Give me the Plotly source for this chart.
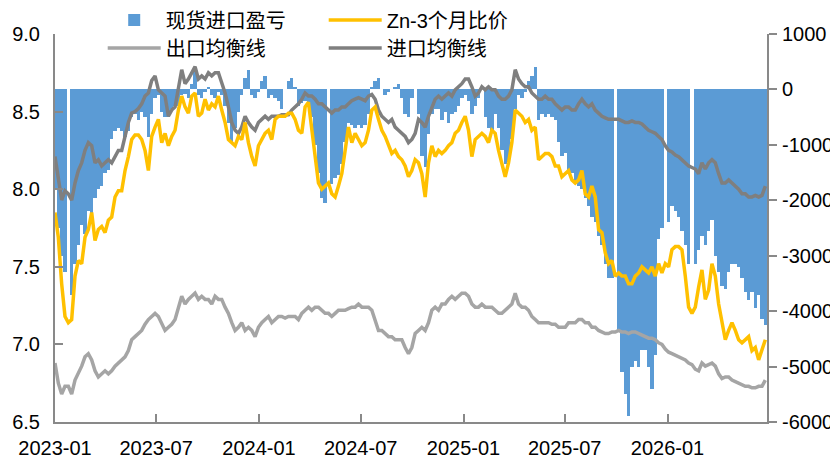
import pandas as pd
import plotly.graph_objects as go

# ---- data (~6-day sampling) ----
ZN_RATIO = [
    7.85, 7.69, 7.39, 7.18, 7.14, 7.16, 7.44, 7.54, 7.52, 7.69, 7.74, 7.85, 7.67, 7.74, 7.76, 7.72, 7.80, 7.82, 7.95, 7.99,
    7.99, 8.12, 8.21, 8.32, 8.35, 8.35, 8.32, 8.25, 8.12, 8.34, 8.40, 8.45, 8.30, 8.36, 8.28, 8.34, 8.38,
    8.51, 8.60, 8.53, 8.49, 8.60, 8.62, 8.47, 8.49, 8.58, 8.51, 8.55, 8.53, 8.60, 8.51, 8.43, 8.32, 8.30, 8.28, 8.34, 8.32,
    8.43, 8.30, 8.21, 8.15, 8.28, 8.32, 8.36, 8.38, 8.32, 8.45, 8.47, 8.47, 8.47, 8.49, 8.49, 8.45,
    8.38, 8.36, 8.53, 8.56, 8.38, 8.21, 8.04, 8.00, 8.02, 8.04, 7.97, 7.95, 8.02, 8.10, 8.25, 8.40, 8.30, 8.36, 8.32, 8.28,
    8.30, 8.38, 8.51, 8.53, 8.45, 8.38, 8.34, 8.28, 8.23, 8.25, 8.21, 8.19, 8.15, 8.08, 8.12, 8.19,
    8.17, 8.10, 7.95, 8.17, 8.28, 8.21, 8.25, 8.23, 8.25, 8.28, 8.30, 8.36, 8.38, 8.43, 8.47, 8.38, 8.21, 8.32, 8.34, 8.36,
    8.34, 8.30, 8.38, 8.36, 8.25, 8.17, 8.08, 8.17, 8.30, 8.51, 8.49, 8.47, 8.43, 8.45, 8.38, 8.40,
    8.19, 8.21, 8.23, 8.23, 8.21, 8.15, 8.15, 8.08, 8.10, 8.12, 8.06, 8.04, 8.06, 8.12, 7.97, 7.95, 8.02, 7.95, 7.74, 7.72,
    7.59, 7.52, 7.54, 7.44, 7.46, 7.44, 7.44, 7.39, 7.39, 7.44, 7.46, 7.50, 7.48, 7.46, 7.50, 7.44,
    7.52, 7.46, 7.52, 7.50, 7.61, 7.63, 7.63, 7.61, 7.44, 7.24, 7.20, 7.24, 7.37, 7.48, 7.29, 7.35, 7.52, 7.44, 7.26, 7.14,
    7.03, 7.09, 7.14, 7.09, 7.03, 7.01, 7.03, 7.05, 6.96, 6.98, 6.90, 6.96, 7.03,
]

IMPORT_BAL = [
    8.21, 8.06, 7.93, 7.99, 7.97, 7.93, 8.04, 8.12, 8.17, 8.25, 8.30, 8.28, 8.17, 8.19, 8.15, 8.17, 8.19, 8.17, 8.21, 8.25,
    8.25, 8.34, 8.43, 8.49, 8.50, 8.52, 8.55, 8.60, 8.62, 8.70, 8.73, 8.64, 8.62, 8.60, 8.47, 8.51, 8.53,
    8.64, 8.77, 8.68, 8.71, 8.75, 8.79, 8.71, 8.73, 8.71, 8.75, 8.73, 8.75, 8.75, 8.68, 8.62, 8.53, 8.43, 8.38, 8.36, 8.40,
    8.47, 8.43, 8.40, 8.38, 8.43, 8.45, 8.47, 8.45, 8.47, 8.47, 8.47, 8.48, 8.48, 8.48, 8.51, 8.53,
    8.55, 8.58, 8.62, 8.60, 8.60, 8.58, 8.55, 8.55, 8.53, 8.51, 8.49, 8.51, 8.51, 8.53, 8.53, 8.55, 8.57, 8.58, 8.59, 8.58,
    8.57, 8.60, 8.61, 8.58, 8.51, 8.47, 8.45, 8.43, 8.45, 8.40, 8.38, 8.36, 8.34, 8.30, 8.32, 8.36,
    8.45, 8.43, 8.40, 8.47, 8.53, 8.58, 8.60, 8.58, 8.60, 8.62, 8.60, 8.64, 8.66, 8.68, 8.71, 8.71, 8.66, 8.60, 8.62, 8.66,
    8.64, 8.66, 8.64, 8.64, 8.60, 8.58, 8.58, 8.60, 8.64, 8.77, 8.71, 8.68, 8.66, 8.66, 8.62, 8.60,
    8.58, 8.58, 8.60, 8.58, 8.58, 8.55, 8.53, 8.51, 8.53, 8.53, 8.51, 8.51, 8.55, 8.58, 8.55, 8.53, 8.55, 8.51, 8.49, 8.47,
    8.46, 8.45, 8.45, 8.45, 8.45, 8.44, 8.43, 8.43, 8.44, 8.43, 8.43, 8.42, 8.40, 8.38, 8.37, 8.36,
    8.34, 8.32, 8.28, 8.25, 8.24, 8.22, 8.21, 8.19, 8.17, 8.15, 8.14, 8.13, 8.10, 8.17, 8.13, 8.17, 8.19, 8.17, 8.10, 8.04,
    8.04, 8.06, 8.04, 8.02, 8.00, 7.97, 7.97, 7.95, 7.95, 7.96, 7.95, 7.96, 8.02,
]

EXPORT_BAL = [
    6.88, 6.75, 6.68, 6.73, 6.73, 6.68, 6.77, 6.81, 6.86, 6.92, 6.94, 6.90, 6.83, 6.79, 6.81, 6.83, 6.81, 6.83, 6.86, 6.88,
    6.90, 6.92, 6.96, 7.03, 7.05, 7.07, 7.09, 7.13, 7.16, 7.18, 7.20, 7.18, 7.13, 7.09, 7.11, 7.13, 7.16,
    7.24, 7.31, 7.26, 7.29, 7.31, 7.33, 7.29, 7.31, 7.29, 7.29, 7.26, 7.31, 7.29, 7.29, 7.24, 7.20, 7.14, 7.09, 7.11, 7.14,
    7.09, 7.11, 7.09, 7.05, 7.11, 7.14, 7.16, 7.18, 7.14, 7.16, 7.18, 7.18, 7.17, 7.18, 7.18, 7.18,
    7.16, 7.20, 7.22, 7.24, 7.22, 7.24, 7.24, 7.22, 7.20, 7.20, 7.18, 7.20, 7.22, 7.22, 7.22, 7.23, 7.24, 7.24, 7.26, 7.24,
    7.24, 7.24, 7.22, 7.16, 7.09, 7.09, 7.07, 7.05, 7.05, 7.03, 7.03, 7.03, 6.98, 6.94, 6.98, 7.07,
    7.09, 7.11, 7.09, 7.14, 7.22, 7.24, 7.22, 7.26, 7.26, 7.29, 7.31, 7.29, 7.31, 7.33, 7.33, 7.31, 7.26, 7.24, 7.24, 7.26,
    7.24, 7.24, 7.24, 7.22, 7.20, 7.20, 7.22, 7.24, 7.26, 7.33, 7.26, 7.24, 7.24, 7.22, 7.18, 7.16,
    7.14, 7.14, 7.14, 7.14, 7.13, 7.13, 7.11, 7.11, 7.11, 7.14, 7.14, 7.14, 7.16, 7.16, 7.14, 7.14, 7.11, 7.11, 7.09, 7.08,
    7.07, 7.07, 7.08, 7.08, 7.09, 7.08, 7.08, 7.07, 7.08, 7.08, 7.07, 7.06, 7.05, 7.04, 7.04, 7.03,
    7.01, 7.00, 6.97, 6.95, 6.94, 6.93, 6.92, 6.91, 6.90, 6.88, 6.87, 6.84, 6.83, 6.88, 6.86, 6.87, 6.88, 6.86, 6.81, 6.78,
    6.79, 6.79, 6.77, 6.76, 6.75, 6.74, 6.73, 6.73, 6.72, 6.72, 6.73, 6.73, 6.77,
]

# None = no quote (holiday)
IMPORT_PL = [
    -1800, -2500, -3000, -3300, None, -3700, -3150, -2800, -2450, -2600, -2200, -2300, -1950, -1800, -1750, -1500, -1450,
    -900, -750, -700, -750, -850, -750, -500, -450, -550, -400, -500, -850, -450, -150, -100, -400, -500, -500, -350, -300,
    -300, -100, -80, -150, 100, 400, -100, -150, -50, 50, -100, -150, -50, -100, -300, -600, -950, -700, -400, -100,
    200, 350, -100, -150, -50, 150, 250, -150, -100, -150, -200, -350, None, 150, 200, 50,
    -300, -250, -200, -300, -500, -1000, -1500, -1950, -2050, None, -1700, -1600, -1550, -1350, -950, -600, -650, -700,
    -650, -700, -650, -450, 50, 150, 200, 0, -100, -50, 0, 50, 100, -150, -450, -500, -150, None,
    -450, -1200, -1400, -800, -450, -350, -350, -550, -400, -600, -450, -400, -300, -150, -100, -200, -450, -300, -150,
    None, -500, -700, -750, -450, -700, -1100, -1350, -1300, -900, -350, -100, -150, -50, 150, 250, 400,
    -550, -450, -500, -450, -500, -550, -950, -1200, -1150, -1450, -1500, -1650, -1750, -1800, -1950, -2100, -2300,
    -2400, -2650, -2800, -3150, -3400, -3400, None, -4350, -5100, -5500, -5900, -5000, -4900, -5000, -4700, -4700,
    -5000, -5400, -4800,
    -2700, -2500, None, -2400, -2100, -2200, -2300, -2550, -2800, -3150, None, -3150, -2900, -2650, -2800, -2550, -2350,
    -3000, -3300, -3550, -3600, -3300, -3150, -3150, -3200, -3400, -3650, -3800, -3650, -3950, -3700, -4150, -4250,
]

assert len(ZN_RATIO) == len(IMPORT_BAL) == len(EXPORT_BAL) == len(IMPORT_PL), (
    len(ZN_RATIO), len(IMPORT_BAL), len(EXPORT_BAL), len(IMPORT_PL))

DATES = pd.date_range("2023-01-01", "2026-06-25", periods=len(ZN_RATIO))

RIGHT_TICKS = [-6000, -5000, -4000, -3000, -2000, -1000, 0, 1000]
RIGHT_TEXT = [str(v) for v in RIGHT_TICKS]

AXIS_GRAY = "#898989"
FONT = "Liberation Sans, Arial, Noto Sans CJK SC, sans-serif"

fig = go.Figure()
fig.add_trace(go.Bar(x=DATES, y=IMPORT_PL, name="现货进口盈亏",
                     marker=dict(color="#5B9BD5", line=dict(width=0)),
                     yaxis="y", legend="legend"))
fig.add_trace(go.Scatter(x=DATES, y=EXPORT_BAL, name="出口均衡线", mode="lines",
                         line=dict(color="#A5A5A5", width=3.5), yaxis="y2", legend="legend2"))
fig.add_trace(go.Scatter(x=DATES, y=IMPORT_BAL, name="进口均衡线", mode="lines",
                         line=dict(color="#7F7F7F", width=3.5), yaxis="y2", legend="legend2"))
fig.add_trace(go.Scatter(x=DATES, y=ZN_RATIO, name="Zn-3个月比价", mode="lines",
                         line=dict(color="#FFC000", width=3.5), yaxis="y2", legend="legend"))

legend_common = dict(orientation="h", xanchor="left", yanchor="middle", itemwidth=53,
                     entrywidth=153, bgcolor="rgba(0,0,0,0)",
                     font=dict(family=FONT, size=20, color="#000"))

# The page body adds an 8px offset; the figure is sized so that the plot
# area lands where the reference has it.
fig.update_layout(
    width=830, height=451,
    margin=dict(l=47, r=71, t=26, b=37, autoexpand=False),
    paper_bgcolor="white", plot_bgcolor="white",
    bargap=0,
    font=dict(family=FONT, size=20, color="#000"),
    xaxis=dict(type="date", range=["2023-01-01", "2026-06-28"],
               tick0="2023-01-01", dtick="M6", tickformat="%Y-%m",
               ticks="inside", ticklen=8, tickwidth=1.5, tickcolor=AXIS_GRAY,
               showline=True, linecolor=AXIS_GRAY, linewidth=2,
               showgrid=False, zeroline=False, automargin=False,
               ticklabelstandoff=7),
    yaxis=dict(side="right", range=[-6000, 1000], tickvals=RIGHT_TICKS, ticktext=RIGHT_TEXT,
               ticks="outside", ticklen=8, tickwidth=1.5, tickcolor=AXIS_GRAY,
               showline=True, linecolor=AXIS_GRAY, linewidth=2,
               showgrid=False, zeroline=False, automargin=False,
               ticklabelstandoff=1),
    yaxis2=dict(side="left", overlaying="y", range=[6.5, 9.0], dtick=0.5, tick0=6.5,
                tickformat=".1f",
                ticks="inside", ticklen=8, tickwidth=1.5, tickcolor=AXIS_GRAY,
                showline=True, linecolor=AXIS_GRAY, linewidth=2,
                showgrid=False, zeroline=False, automargin=False,
                ticklabelstandoff=9),
    legend=dict(x=0.067, y=1.036, **legend_common),
    legend2=dict(x=0.067, y=0.964, **legend_common),
    showlegend=True,
)

fig.write_html("out.html")
